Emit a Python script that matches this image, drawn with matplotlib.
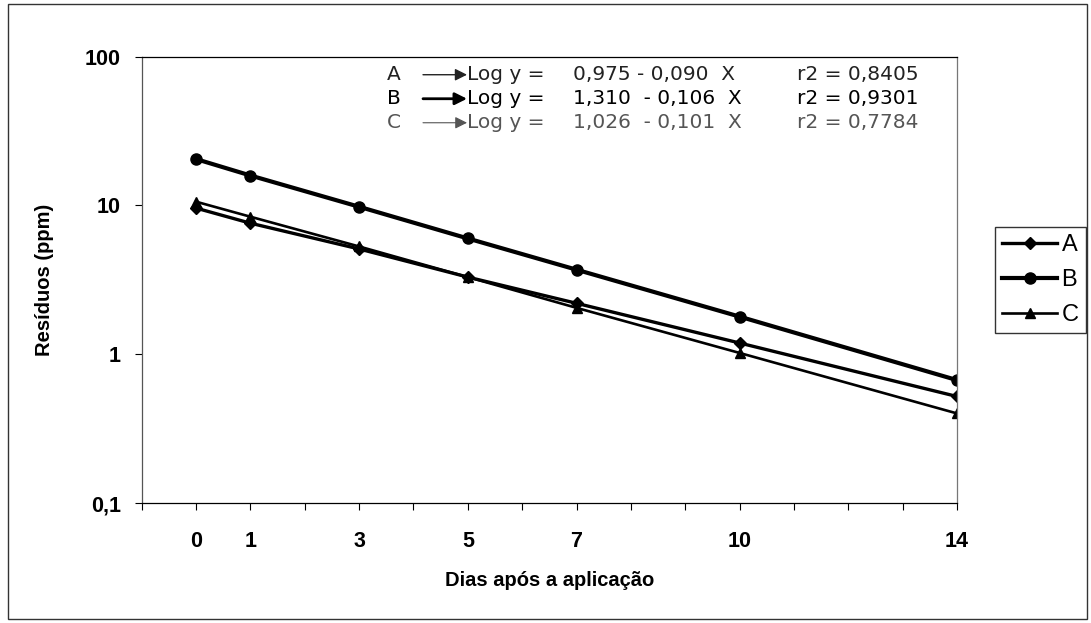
import matplotlib
matplotlib.use('Agg')
import matplotlib.pyplot as plt
from matplotlib.patches import Rectangle
from matplotlib.ticker import NullLocator

# dias após a aplicação e resíduos (ppm)
dias = [0, 1, 3, 5, 7, 10, 14]
res_a = [9.6, 7.6, 5.1, 3.3, 2.2, 1.19, 0.52]
res_b = [20.5, 15.9, 9.8, 6.0, 3.7, 1.79, 0.67]
res_c = [10.6, 8.4, 5.3, 3.3, 2.05, 1.02, 0.40]

series = ['A', 'B', 'C']
equacoes = ['0,975 - 0,090  X', '1,310  - 0,106  X', '1,026  - 0,101  X']
r2 = ['r2 = 0,8405', 'r2 = 0,9301', 'r2 = 0,7784']
eq_lhs = ['Log y =', 'Log y =', 'Log y =']

y_ticks = [0.1, 1, 10, 100]
y_ticklabels = ['0,1', '1', '10', '100']

plt.rcParams['font.family'] = ['Liberation Sans', 'DejaVu Sans']

fig = plt.figure(figsize=(10.91, 6.23), dpi=100)
ax = fig.add_axes([0.1299, 0.1926, 0.7473, 0.7164])

ax.plot(dias, res_a, color='black', lw=2.4, marker='D', ms=6.5, label='A')
ax.plot(dias, res_b, color='black', lw=3.0, marker='o', ms=8, label='B')
ax.plot(dias, res_c, color='black', lw=1.9, marker='^', ms=7, label='C')

ax.set_yscale('log')
ax.set_ylim(0.1, 100)
ax.set_xlim(-1, 14)
ax.set_yticks(y_ticks)
ax.set_yticklabels(y_ticklabels)
ax.yaxis.set_minor_locator(NullLocator())
xt = list(range(-1, 15))
ax.set_xticks(xt)
ax.set_xticklabels([str(d) if d in dias else '' for d in xt])

for lab in ax.get_xticklabels() + ax.get_yticklabels():
    lab.set_fontweight('bold')
ax.tick_params(axis='both', direction='out', length=5, width=0.8,
               labelsize=15.5, colors='black', pad=10)
ax.tick_params(axis='x', pad=15)

for side in ['top', 'bottom', 'left', 'right']:
    ax.spines[side].set_linewidth(0.9)
ax.spines['left'].set_color('#555555')
ax.spines['right'].set_color('#777777')

ax.set_xlabel('Dias após a aplicação', fontsize=14.5, fontweight='bold', labelpad=14)
ax.set_ylabel('Resíduos (ppm)', fontsize=14.5, fontweight='bold', labelpad=22)

# equações de regressão
row_y = [0.9596, 0.9058, 0.852]
cores = ['#222222', '#000000', '#555555']
arrow_lw = [1.0, 2.0, 0.8]
for i in range(3):
    kw = dict(transform=ax.transAxes, fontsize=14.5, va='center', color=cores[i],
              family='DejaVu Sans')
    ax.text(0.301, row_y[i], series[i], **kw)
    ax.text(0.399, row_y[i], eq_lhs[i], **kw)
    ax.text(0.529, row_y[i], equacoes[i], **kw)
    ax.text(0.804, row_y[i], r2[i], **kw)
    ax.annotate('', xy=(0.399, row_y[i]), xytext=(0.345, row_y[i]),
                xycoords='axes fraction',
                arrowprops=dict(arrowstyle='-|>', lw=arrow_lw[i], color=cores[i],
                                mutation_scale=18, shrinkA=0, shrinkB=0))

leg = ax.legend(loc='center left', bbox_to_anchor=(1.047, 0.5), frameon=True,
                fancybox=False, edgecolor='black', fontsize=17, handlelength=2.3,
                handletextpad=0.2, borderpad=0.3, labelspacing=0.55,
                borderaxespad=0)
leg.get_frame().set_linewidth(1.0)

fig.patches.append(Rectangle((0.007, 0.006), 0.989, 0.988, transform=fig.transFigure,
                             fill=False, edgecolor='#333333', lw=1.0))

fig.savefig('out.png', dpi=100)
